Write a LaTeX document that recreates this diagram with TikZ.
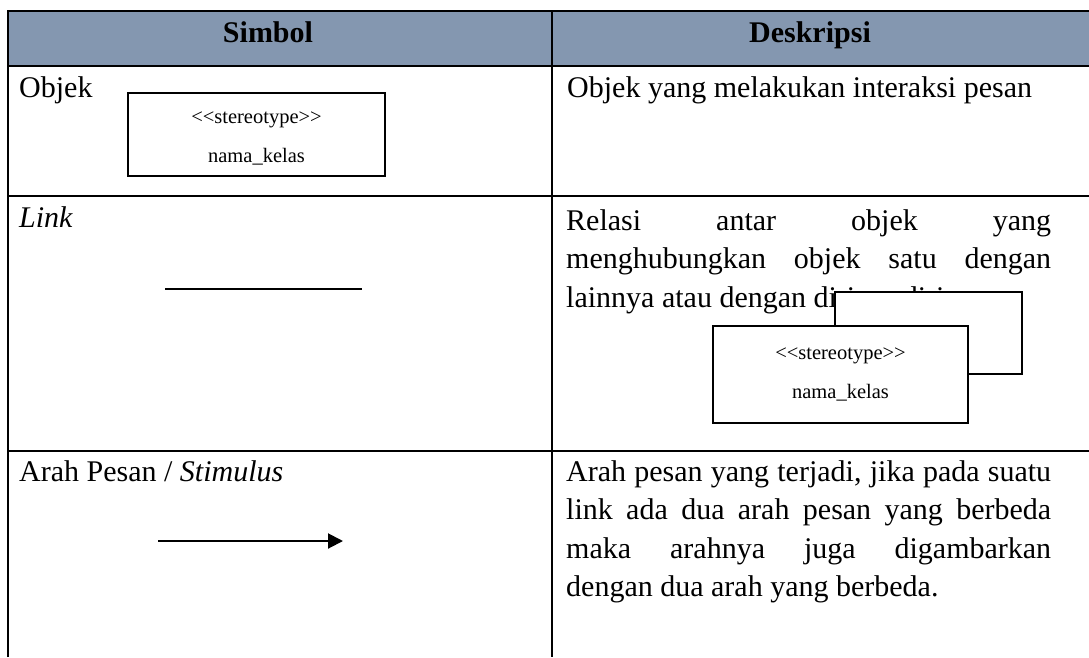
\documentclass[tikz,border=0pt]{standalone}
\usepackage{fontspec}
\setmainfont{Liberation Serif}
\newfontfamily\umlfont{Liberation Serif}
\usetikzlibrary{positioning,arrows.meta}
\definecolor{headblue}{HTML}{8497B0}
\newcommand{\jline}[1]{\makebox[\linewidth][s]{#1}}
\tikzset{tablerule/.style={line width=2pt},
	 celltext/.style={inner sep=0pt,anchor=base west,font=\fontsize{30}{38.5}\selectfont},
	 headtext/.style={inner sep=0pt,anchor=base,font=\bfseries\fontsize{30}{36}\selectfont},
	 desctext/.style={celltext,text width=485pt,align=left,
	   execute at begin node={\spaceskip=0pt\xspaceskip=0pt\relax}},
	 objbox/.style={draw,fill=white,line width=1.5pt,inner sep=0pt},
	 objlabel/.style={inner sep=0pt,align=center,font=\umlfont\fontsize{20.5}{39}\selectfont},
	 symline/.style={line width=2pt}
	 }

\begin{document}
\begin{tikzpicture}[x=1pt,y=-1pt] % tabel simbol diagram objek
	\useasboundingbox (0,0) rectangle (1089,657);
	\fill[headblue] (8,11) rectangle (1089,66);
	\draw[tablerule] (8,657) -- (8,11) -- (1089,11);
	\draw[tablerule] (552,11) -- (552,657);
	\draw[tablerule] (8,66) -- (1089,66);
	\draw[tablerule] (8,196) -- (1089,196);
	\draw[tablerule] (8,451) -- (1089,451);
	\node[headtext] (hsim) at (268,42) {Simbol};
	\node[headtext] (hdes) at (810,42) {Deskripsi};
	% baris objek
	\node[celltext] (objek) at (19,97) {Objek};
	\node[objbox,minimum width=257pt,minimum height=83pt] (obj1) at (256.5,134.5) {};
	\node[objlabel] (st1) at ([yshift=-4pt]obj1.center) {<<stereotype>>\\nama\_kelas};
	\node[desctext] (dobjek) at (567,97) {Objek yang melakukan interaksi pesan};
	% baris link
	\node[celltext] (link) at (19,227) {\itshape Link};
	\coordinate (lnka) at (165,289);
	\coordinate (lnkb) at (362,289);
	\draw[symline] (lnka) to (lnkb);
	\node[desctext] (dlink) at (566,230) {%
	  \jline{Relasi antar objek yang}\\
	  \jline{menghubungkan objek satu dengan}\\
	  lainnya atau dengan diri sendiri};
	\node[objbox,minimum width=187pt,minimum height=82pt] (obj2b) at (928.5,333) {};
	\node[objbox,minimum width=255pt,minimum height=97pt] (obj2) at (840.5,374.5) {};
	\node[objlabel] (st2) at (obj2.center) {<<stereotype>>\\nama\_kelas};
	% baris arah pesan
	\node[celltext] (arah) at (19,481) {Arah Pesan / \textit{Stimulus}};
	\coordinate (arra) at (158,541);
	\coordinate (arrb) at (343,541);
	\draw[symline,-{Triangle[length=15pt,width=15pt]}] (arra) to (arrb);
	\node[desctext] (darah) at (566,481) {%
	  \jline{Arah pesan yang terjadi, jika pada suatu}\\
	  \jline{link ada dua arah pesan yang berbeda}\\
	  \jline{maka arahnya juga digambarkan}\\
	  dengan dua arah yang berbeda.};
\end{tikzpicture}
\end{document}
